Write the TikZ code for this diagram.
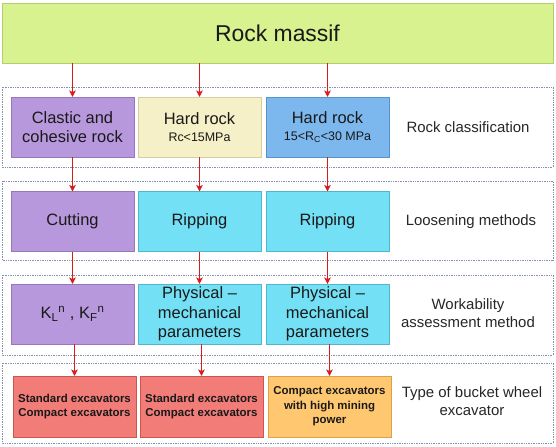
\documentclass[tikz,border=0pt]{standalone}
\usepackage{fontspec}
\setmainfont{Liberation Sans}
\usetikzlibrary{arrows.meta}
\definecolor{massifgreen}{RGB}{215,242,142}
\definecolor{massifline}{RGB}{180,205,115}
\definecolor{lilac}{RGB}{184,152,220}
\definecolor{lilacline}{RGB}{150,120,185}
\definecolor{cream}{RGB}{246,240,200}
\definecolor{creamline}{RGB}{215,205,160}
\definecolor{skyblue}{RGB}{124,184,238}
\definecolor{skyline}{RGB}{88,148,204}
\definecolor{aqua}{RGB}{115,224,245}
\definecolor{aqualine}{RGB}{80,182,205}
\definecolor{salmon}{RGB}{242,124,120}
\definecolor{salmonline}{RGB}{205,85,80}
\definecolor{apricot}{RGB}{255,200,112}
\definecolor{apricotline}{RGB}{222,160,70}
\definecolor{flowred}{RGB}{212,30,30}
\definecolor{framegray}{RGB}{130,145,170}
\tikzset{
  box/.style={rectangle, inner sep=0pt, outer sep=0pt, line width=0.8bp,
    minimum width=123bp, minimum height=60bp, align=center, text=black!90,
    font=\fontsize{16.5}{19.5}\selectfont},
  exc/.style={box, minimum height=61bp, font=\fontsize{11.5}{14.5}\selectfont\bfseries},
  flow/.style={draw=flowred, line width=1.6bp, -{Stealth[length=6.5bp,width=6.5bp,inset=1.5bp]}},
  band/.style={draw=framegray, line width=0.7bp, densely dotted},
  caption/.style={align=center, text=black!85, font=\fontsize{15}{18.5}\selectfont}
}
\begin{document}
\begin{tikzpicture}[x=1bp, y=-1bp]
\useasboundingbox (0,0) rectangle (556,447);
% dotted bands
\draw[band] (2,87) rectangle (553,167);
\draw[band] (2,181) rectangle (553,260);
\draw[band] (2,275) rectangle (553,355);
\draw[band] (2,363) rectangle (553,443);
% top
\node[box, fill=massifgreen, draw=massifline, minimum width=551bp, font=\fontsize{23}{27}\selectfont] (massif) at (277.5,33) {Rock massif};
% rock classification
\node[box, fill=lilac, draw=lilacline] (clastic) at (72.5,127) {Clastic and\\cohesive rock};
\node[box, fill=cream, draw=creamline] (hardA) at (199.5,127) {Hard rock\\[-2pt]{\fontsize{12.5}{14}\selectfont Rc<15MPa}};
\node[box, fill=skyblue, draw=skyline] (hardB) at (327.5,127) {Hard rock\\[-2pt]{\fontsize{12.5}{14}\selectfont 15<R\textsubscript{C}<30 MPa}};
\node[caption] (lclass) at (468,127) {Rock classification};
% loosening
\node[box, fill=lilac, draw=lilacline] (cut) at (72.5,221.5) {Cutting};
\node[box, fill=aqua, draw=aqualine] (ripA) at (199.5,221.5) {Ripping};
\node[box, fill=aqua, draw=aqualine] (ripB) at (327.5,221.5) {Ripping};
\node[caption] (lloos) at (471,221.5) {Loosening methods};
% workability
\node[box, fill=lilac, draw=lilacline] (klf) at (72.5,314) {K\textsubscript{L}\textsuperscript{n} , K\textsubscript{F}\textsuperscript{n}};
\node[box, fill=aqua, draw=aqualine] (physA) at (199.5,314) {Physical --\\mechanical\\parameters};
\node[box, fill=aqua, draw=aqualine] (physB) at (327.5,314) {Physical --\\mechanical\\parameters};
\node[caption] (lwork) at (468,313) {Workability\\assessment method};
% excavators
\node[exc, fill=salmon, draw=salmonline] (stdA) at (74.5,406.5) {Standard excavators\\Compact excavators};
\node[exc, fill=salmon, draw=salmonline] (stdB) at (201.5,406.5) {Standard excavators\\Compact excavators};
\node[exc, fill=apricot, draw=apricotline] (compact) at (329.5,406.5) {Compact excavators\\with high mining\\power};
\node[caption] (ltype) at (472,401) {Type of bucket wheel\\excavator};
% arrows
\draw[flow] (massif.south -| clastic.north) -- (clastic.north);
\draw[flow] (massif.south -| hardA.north) -- (hardA.north);
\draw[flow] (massif.south -| hardB.north) -- (hardB.north);
\draw[flow] (clastic.south) -- (cut.north);
\draw[flow] (hardA.south) -- (ripA.north);
\draw[flow] (hardB.south) -- (ripB.north);
\draw[flow] (cut.south) -- (klf.north);
\draw[flow] (ripA.south) -- (physA.north);
\draw[flow] (ripB.south) -- (physB.north);
\draw[flow] (klf.south -| stdA.north) -- (stdA.north);
\draw[flow] (physA.south -| stdB.north) -- (stdB.north);
\draw[flow] (physB.south -| compact.north) -- (compact.north);
\end{tikzpicture}
\end{document}
